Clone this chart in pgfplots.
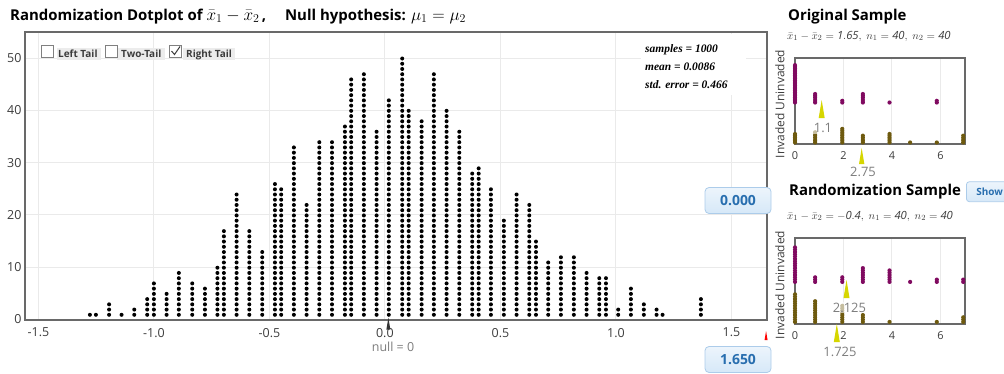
\documentclass[border=0pt]{standalone}
\usepackage{fontspec}
\setmainfont{Open Sans}
\newfontfamily\statfont{Liberation Serif}
\usepackage{pgfplots}
\usepackage{pgfplotstable}
\pgfplotsset{compat=1.18}

\definecolor{axgray}{RGB}{105,105,105}
\definecolor{gridgray}{RGB}{234,234,234}
\definecolor{ticktext}{RGB}{60,60,60}
\definecolor{lbltext}{RGB}{125,125,125}
\definecolor{purp}{RGB}{128,10,96}
\definecolor{invcol}{RGB}{110,90,15}
\definecolor{meanyel}{RGB}{214,214,0}
\definecolor{btnblue}{RGB}{40,110,175}
\definecolor{btnfill}{RGB}{214,232,248}
\definecolor{btnborder}{RGB}{172,204,234}
\definecolor{tabgray}{RGB}{236,236,236}

\pgfdeclareplotmark{uptri}{%
  \pgfpathmoveto{\pgfqpoint{0pt}{0pt}}%
  \pgfpathlineto{\pgfqpoint{\pgfplotmarksize}{-6\pgfplotmarksize}}%
  \pgfpathlineto{\pgfqpoint{-\pgfplotmarksize}{-6\pgfplotmarksize}}%
  \pgfpathclose\pgfusepathqfill}

% randomization distribution: column position and number of dots (1000 samples)
\pgfplotstableread{
x n
-1.277 1
-1.251 1
-1.194 3
-1.140 1
-1.085 2
-1.029 4
-1.000 7
-0.945 5
-0.892 9
-0.834 7
-0.779 6
-0.725 10
-0.697 17
-0.642 24
-0.587 17
-0.531 13
-0.476 26
-0.449 25
-0.394 33
-0.339 22
-0.284 34
-0.229 34
-0.173 37
-0.146 46
-0.091 47
-0.036 36
0.017 42
0.075 50
0.103 40
0.159 38
0.212 47
0.267 40
0.322 36
0.378 28
0.406 29
0.459 25
0.515 19
0.570 24
0.625 22
0.654 15
0.707 11
0.762 12
0.818 12
0.873 9
0.928 8
0.957 8
1.010 2
1.065 6
1.121 3
1.176 2
1.202 1
1.368 4
}\dotdata

\pgfplotstableread{
x n
0 23
0.83 6
1.95 2
2.8 6
3.9 1
5.85 2
}\origtop
\pgfplotstableread{
x n
0 6
0.83 7
1.95 9
2.8 5
3.9 6
4.75 1
5.85 1
6.94 5
}\origbot
\pgfplotstableread{
x n
0 16
0.83 3
1.95 3
2.8 7
3.9 6
4.75 1
5.85 2
6.94 2
}\randtop
\pgfplotstableread{
x n
0 13
0.83 10
1.95 8
2.8 4
3.9 1
5.85 1
6.94 3
}\randbot

\pgfplotsset{
  smallframe/.style={
    anchor=south west, x=24.24bp, xmin=0, xmax=7, ymin=0,
    axis line style={draw=axgray, line width=2bp},
    xtick={0,2,4,6}, ytick=\empty,
    xmajorgrids, major grid style={draw=gridgray, line width=1bp},
    major tick length=0pt,
    tick label style={font=\fontsize{11}{13}\selectfont, text=ticktext},
    xticklabel style={yshift=-4bp},
    /pgf/number format/assume math mode=true,
    clip=false,
  },
  smalloverlay/.style={anchor=south west, x=24.24bp, xmin=0, xmax=7, hide axis, clip=false},
}

\begin{document}
\begin{tikzpicture}
\useasboundingbox (0bp,0bp) rectangle (1004bp,-374bp);

\node[anchor=base west, inner sep=0pt, font=\fontsize{15}{18}\selectfont\bfseries] at (10bp,-20bp)
  {Randomization Dotplot of\ {\fontsize{17}{18}\selectfont$\bar{x}_{1}-\bar{x}_{2}$}\,,\quad\ Null hypothesis: {\fontsize{17}{18}\selectfont$\mu_{1}=\mu_{2}$}};

\begin{axis}[
  at={(25bp,-319.5bp)}, anchor=south west,
  x=231bp, y=5.23bp,
  xmin=-1.558, xmax=1.654, ymin=0, ymax=55,
  axis line style={draw=axgray, line width=2bp},
  grid=major, major grid style={draw=gridgray, line width=1bp},
  major tick length=0pt,
  xtick={-1.5,-1,-0.5,0,0.5,1,1.5},
  xticklabels={-1.5,-1.0,-0.5,0.0,0.5,1.0,1.5},
  ytick={0,10,20,30,40,50},
  tick label style={font=\fontsize{12.5}{14}\selectfont, text=ticktext},
  xticklabel style={yshift=-5bp},
  /pgf/number format/assume math mode=true,
  clip=false,
]
\addplot[ycomb, draw=black, line width=4bp, line cap=round,
  dash pattern=on 0pt off 5.23bp, dash phase=0.523bp] table[x=x, y=n] {\dotdata};
\addplot[only marks, mark=uptri, mark size=2bp, color=black!80] coordinates {(0.015,0.35)};
\addplot[only marks, mark=uptri, mark size=1.5bp, color=red] coordinates {(1.65,-2.2)};
\end{axis}

% tail checkboxes
\fill[tabgray] (56.5bp,-48bp) rectangle (100.5bp,-59.5bp);
\fill[tabgray] (117bp,-48bp) rectangle (165bp,-59.5bp);
\fill[tabgray] (183bp,-48bp) rectangle (235bp,-59.5bp);
\draw[draw=gray, line width=0.8bp, fill=white] (41bp,-45bp) rectangle (53bp,-57bp);
\draw[draw=gray, line width=0.8bp, fill=white] (105bp,-45bp) rectangle (117bp,-57bp);
\draw[draw=gray, line width=0.8bp, fill=white] (169.5bp,-45bp) rectangle (181.5bp,-57bp);
\draw[draw=ticktext, line width=1bp] (171.5bp,-51bp) -- (174.5bp,-54.5bp) -- (180bp,-46.5bp);
\node[anchor=base west, inner sep=0pt, font=\fontsize{10}{12}\selectfont\bfseries, text=ticktext] at (58bp,-57.3bp) {Left Tail};
\node[anchor=base west, inner sep=0pt, font=\fontsize{10}{12}\selectfont\bfseries, text=ticktext] at (121bp,-57.3bp) {Two-Tail};
\node[anchor=base west, inner sep=0pt, font=\fontsize{10}{12}\selectfont\bfseries, text=ticktext] at (186bp,-57.3bp) {Right Tail};

% summary statistics
\fill[white] (641bp,-34bp) rectangle (746bp,-95bp);
\node[anchor=base west, inner sep=0pt, font={\fontsize{11.5}{13}\statfont\bfseries\itshape}] at (645bp,-52bp) {samples = 1000};
\node[anchor=base west, inner sep=0pt, font={\fontsize{11.5}{13}\statfont\bfseries\itshape}] at (645bp,-70bp) {mean = 0.0086};
\node[anchor=base west, inner sep=0pt, font={\fontsize{11.5}{13}\statfont\bfseries\itshape}] at (645bp,-88bp) {std. error = 0.466};

\node[inner sep=0pt, text=lbltext, font=\fontsize{12.5}{14}\selectfont] at (393bp,-347bp) {null = 0};

% value boxes
\node[draw=btnborder, line width=0.8bp, rounded corners=4bp, top color=white!55!btnfill, bottom color=btnfill,
  minimum width=66bp, minimum height=26bp, inner sep=0pt, text=btnblue,
  font=\fontsize{14}{16}\selectfont\bfseries] at (738bp,-200.5bp) {0.000};
\node[draw=btnborder, line width=0.8bp, rounded corners=4bp, top color=white!55!btnfill, bottom color=btnfill,
  minimum width=66bp, minimum height=26bp, inner sep=0pt, text=btnblue,
  font=\fontsize{14}{16}\selectfont\bfseries] at (738bp,-359.5bp) {1.650};

% ---------- Original sample ----------
\node[anchor=base west, inner sep=0pt, font=\fontsize{15}{18}\selectfont\bfseries] at (788bp,-20.7bp) {Original Sample};
\node[anchor=base west, inner sep=0pt, text=ticktext, font=\fontsize{11.3}{13}\selectfont] at (787bp,-39bp)
  {$\bar{x}_{1}-\bar{x}_{2}=\mathit{1.65},\ n_{1}=\mathit{40},\ n_{2}=\mathit{40}$};
\node[rotate=90, inner sep=0pt, text=ticktext, font=\fontsize{12}{14}\selectfont] at (780bp,-104bp) {Invaded Uninvaded};

\begin{axis}[smallframe, at={(795bp,-144bp)}, y=1.7bp, ymax=50.41]
\addplot[ycomb, draw=invcol, line width=4.2bp, line cap=round,
  dash pattern=on 0pt off 1.7bp, dash phase=0.17bp] table[x=x, y=n] {\origbot};
\addplot[only marks, mark=uptri, mark size=3bp, color=meanyel] coordinates {(1.1,25.88)};
\addplot[only marks, mark=uptri, mark size=2.7bp, color=meanyel] coordinates {(2.75,-2.35)};
\end{axis}
\begin{axis}[smalloverlay, at={(795bp,-144bp)}, y=1.7bp, ymin=-23.5, ymax=26.91]
\addplot[ycomb, draw=purp, line width=4.2bp, line cap=round,
  dash pattern=on 0pt off 1.7bp, dash phase=0.17bp] table[x=x, y=n] {\origtop};
\end{axis}
\node[fill=white, fill opacity=0.6, text opacity=1, inner sep=1bp, text=lbltext, font=\fontsize{13}{15}\selectfont] at (823bp,-128bp) {1.1};
\node[fill=white, fill opacity=0.6, text opacity=1, inner sep=1bp, text=lbltext, font=\fontsize{13}{15}\selectfont] at (863bp,-172bp) {2.75};

% ---------- Randomization sample ----------
\node[anchor=base west, inner sep=0pt, font=\fontsize{15}{18}\selectfont\bfseries] at (789bp,-195bp) {Randomization Sample};
\node[anchor=west, draw=btnborder, line width=0.8bp, rounded corners=3bp, top color=white!55!btnfill, bottom color=btnfill,
  minimum height=20bp, inner xsep=10bp, inner ysep=0pt, text=btnblue, font=\fontsize{10}{12}\selectfont\bfseries] at (966bp,-191.7bp) {Show};
\node[anchor=base west, inner sep=0pt, text=ticktext, font=\fontsize{11.3}{13}\selectfont] at (787bp,-219bp)
  {$\bar{x}_{1}-\bar{x}_{2}=\mathit{-0.4},\ n_{1}=\mathit{40},\ n_{2}=\mathit{40}$};
\node[rotate=90, inner sep=0pt, text=ticktext, font=\fontsize{12}{14}\selectfont] at (780bp,-285bp) {Invaded Uninvaded};

\begin{axis}[smallframe, at={(795bp,-324bp)}, y=2.3bp, ymax=37.26]
\addplot[ycomb, draw=invcol, line width=4.2bp, line cap=round,
  dash pattern=on 0pt off 2.3bp, dash phase=0.23bp] table[x=x, y=n] {\randbot};
\addplot[only marks, mark=uptri, mark size=3bp, color=meanyel] coordinates {(2.125,19.13)};
\addplot[only marks, mark=uptri, mark size=3bp, color=meanyel] coordinates {(1.725,0)};
\end{axis}
\begin{axis}[smalloverlay, at={(795bp,-324bp)}, y=2.3bp, ymin=-17.4, ymax=19.86]
\addplot[ycomb, draw=purp, line width=4.2bp, line cap=round,
  dash pattern=on 0pt off 2.3bp, dash phase=0.23bp] table[x=x, y=n] {\randtop};
\end{axis}
\node[fill=white, fill opacity=0.6, text opacity=1, inner sep=1bp, text=lbltext, font=\fontsize{13}{15}\selectfont] at (849.5bp,-307.7bp) {2.125};
\node[fill=white, fill opacity=0.6, text opacity=1, inner sep=1bp, text=lbltext, font=\fontsize{13}{15}\selectfont] at (840bp,-351.7bp) {1.725};
\end{tikzpicture}
\end{document}
